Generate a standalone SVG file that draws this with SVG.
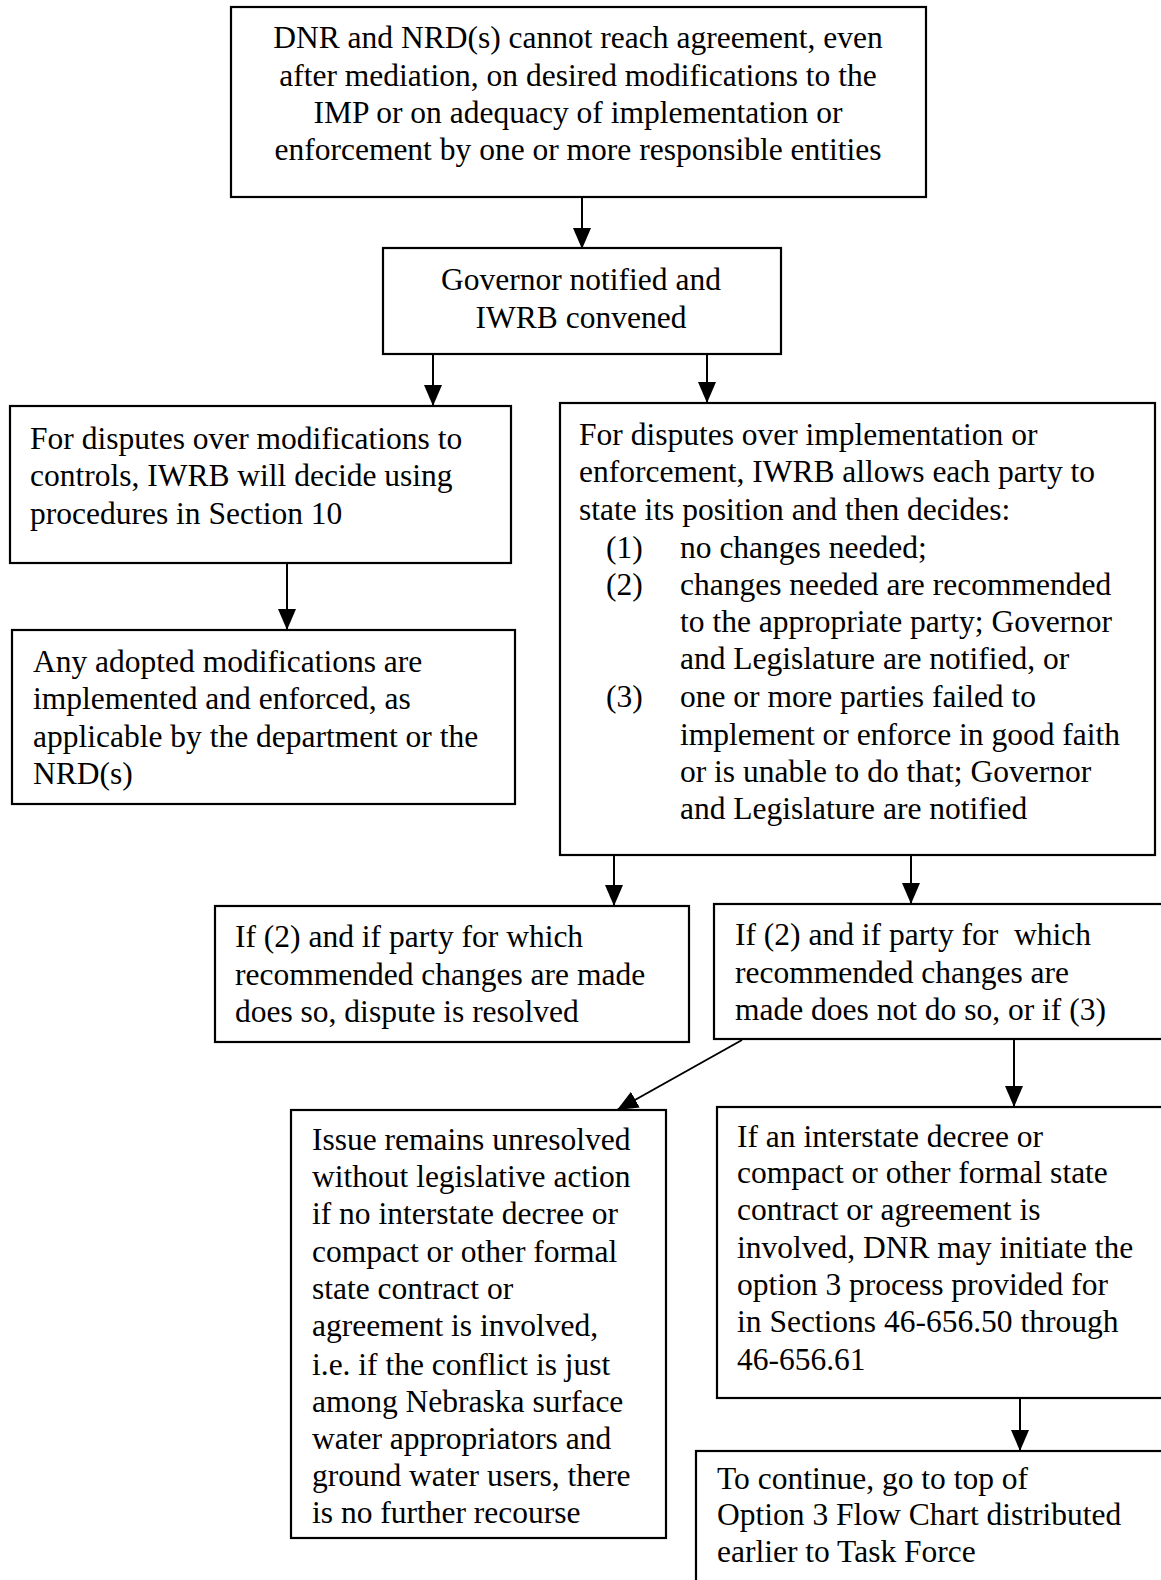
<svg xmlns="http://www.w3.org/2000/svg" width="1161" height="1580" viewBox="0 0 1161 1580">
<style>
.box{fill:#fff;stroke:#000;stroke-width:2.2}
.t{font-family:"Liberation Serif","Times New Roman",serif;font-size:31.5px;fill:#000}
.c{text-anchor:middle}
.ln{stroke:#000;stroke-width:2;fill:none}
</style>
<defs>
<marker id="ah" viewBox="0 0 21 18" refX="21" refY="9" markerWidth="21" markerHeight="18" markerUnits="userSpaceOnUse" orient="auto">
<path d="M0,0 L21,9 L0,18 Z" fill="#000"/>
</marker>
</defs>
<g id="connectors">
<line class="ln" x1="582" y1="197" x2="582" y2="249" marker-end="url(#ah)"/>
<line class="ln" x1="433" y1="354" x2="433" y2="406" marker-end="url(#ah)"/>
<line class="ln" x1="707" y1="354" x2="707" y2="403" marker-end="url(#ah)"/>
<line class="ln" x1="287" y1="563" x2="287" y2="630" marker-end="url(#ah)"/>
<line class="ln" x1="614" y1="855" x2="614" y2="906" marker-end="url(#ah)"/>
<line class="ln" x1="911" y1="855" x2="911" y2="904" marker-end="url(#ah)"/>
<line class="ln" x1="742" y1="1040" x2="617" y2="1110" marker-end="url(#ah)"/>
<line class="ln" x1="1014" y1="1039" x2="1014" y2="1107" marker-end="url(#ah)"/>
<line class="ln" x1="1020" y1="1398" x2="1020" y2="1451" marker-end="url(#ah)"/>
</g>
<g id="n1">
<rect class="box" x="231" y="7" width="695" height="190"/>
<text class="t c" x="578" y="48">DNR and NRD(s) cannot reach agreement, even</text>
<text class="t c" x="578" y="86">after mediation, on desired modifications to the</text>
<text class="t c" x="578" y="123">IMP or on adequacy of implementation or</text>
<text class="t c" x="578" y="160">enforcement by one or more responsible entities</text>
</g>
<g id="n2">
<rect class="box" x="383" y="248" width="398" height="106"/>
<text class="t c" x="581" y="290">Governor notified and</text>
<text class="t c" x="581" y="328">IWRB convened</text>
</g>
<g id="n3">
<rect class="box" x="10" y="406" width="501" height="157"/>
<text class="t" x="30" y="449">For disputes over modifications to</text>
<text class="t" x="30" y="486">controls, IWRB will decide using</text>
<text class="t" x="30" y="524">procedures in Section 10</text>
</g>
<g id="n4">
<rect class="box" x="12" y="630" width="503" height="174"/>
<text class="t" x="33" y="672">Any adopted modifications are</text>
<text class="t" x="33" y="709">implemented and enforced, as</text>
<text class="t" x="33" y="747">applicable by the department or the</text>
<text class="t" x="33" y="784">NRD(s)</text>
</g>
<g id="n5">
<rect class="box" x="560" y="403" width="595" height="452"/>
<text class="t" x="579" y="445">For disputes over implementation or</text>
<text class="t" x="579" y="482">enforcement, IWRB allows each party to</text>
<text class="t" x="579" y="520">state its position and then decides:</text>
<text class="t" x="606" y="558">(1)</text>
<text class="t" x="680" y="558">no changes needed;</text>
<text class="t" x="606" y="595">(2)</text>
<text class="t" x="680" y="595">changes needed are recommended</text>
<text class="t" x="680" y="632">to the appropriate party; Governor</text>
<text class="t" x="680" y="669">and Legislature are notified, or</text>
<text class="t" x="606" y="707">(3)</text>
<text class="t" x="680" y="707">one or more parties failed to</text>
<text class="t" x="680" y="745">implement or enforce in good faith</text>
<text class="t" x="680" y="782">or is unable to do that; Governor</text>
<text class="t" x="680" y="819">and Legislature are notified</text>
</g>
<g id="n6">
<rect class="box" x="215" y="906" width="474" height="136"/>
<text class="t" x="235" y="947">If (2) and if party for which</text>
<text class="t" x="235" y="985">recommended changes are made</text>
<text class="t" x="235" y="1022">does so, dispute is resolved</text>
</g>
<g id="n7">
<rect class="box" x="714" y="904" width="460" height="135"/>
<text class="t" x="735" y="945" xml:space="preserve">If (2) and if party for  which</text>
<text class="t" x="735" y="983">recommended changes are</text>
<text class="t" x="735" y="1020">made does not do so, or if (3)</text>
</g>
<g id="n8">
<rect class="box" x="291" y="1110" width="375" height="428"/>
<text class="t" x="312" y="1150">Issue remains unresolved</text>
<text class="t" x="312" y="1187">without legislative action</text>
<text class="t" x="312" y="1224">if no interstate decree or</text>
<text class="t" x="312" y="1262">compact or other formal</text>
<text class="t" x="312" y="1299">state contract or</text>
<text class="t" x="312" y="1336">agreement is involved,</text>
<text class="t" x="312" y="1375">i.e. if the conflict is just</text>
<text class="t" x="312" y="1412">among Nebraska surface</text>
<text class="t" x="312" y="1449">water appropriators and</text>
<text class="t" x="312" y="1486">ground water users, there</text>
<text class="t" x="312" y="1523">is no further recourse</text>
</g>
<g id="n9">
<rect class="box" x="717" y="1107" width="460" height="291"/>
<text class="t" x="737" y="1147">If an interstate decree or</text>
<text class="t" x="737" y="1183">compact or other formal state</text>
<text class="t" x="737" y="1220">contract or agreement is</text>
<text class="t" x="737" y="1258">involved, DNR may initiate the</text>
<text class="t" x="737" y="1295">option 3 process provided for</text>
<text class="t" x="737" y="1332">in Sections 46-656.50 through</text>
<text class="t" x="737" y="1370">46-656.61</text>
</g>
<g id="n10">
<rect class="box" x="696" y="1451" width="480" height="150"/>
<text class="t" x="717" y="1489">To continue, go to top of</text>
<text class="t" x="717" y="1525">Option 3 Flow Chart distributed</text>
<text class="t" x="717" y="1562">earlier to Task Force</text>
</g>
</svg>
